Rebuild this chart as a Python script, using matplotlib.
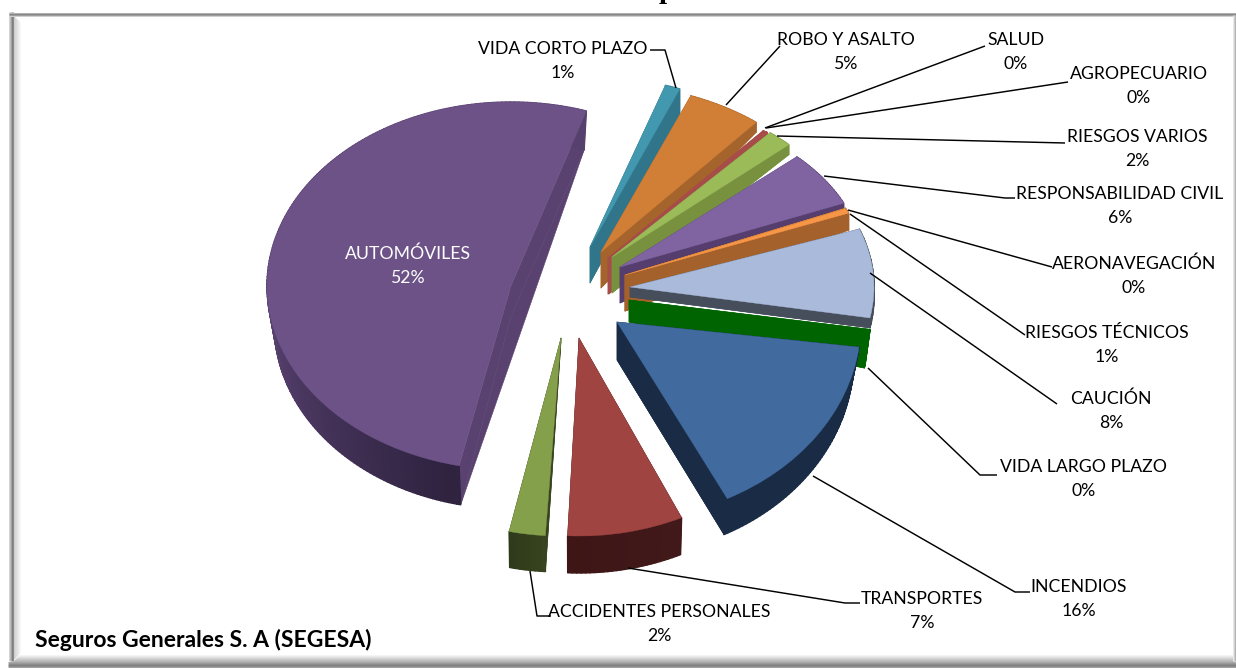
import numpy as np
import matplotlib
matplotlib.use("Agg")
import matplotlib.pyplot as plt
from matplotlib.patches import Wedge
from matplotlib.collections import PolyCollection
from matplotlib.colors import to_rgb
from matplotlib.transforms import Affine2D

# ---- data ----
categories = ["VIDA CORTO PLAZO", "ROBO Y ASALTO", "SALUD", "AGROPECUARIO", "RIESGOS VARIOS",
              "RESPONSABILIDAD CIVIL", "AERONAVEGACIÓN", "RIESGOS TÉCNICOS", "CAUCIÓN",
              "VIDA LARGO PLAZO", "INCENDIOS", "TRANSPORTES", "ACCIDENTES PERSONALES", "AUTOMÓVILES"]
values = [1.0, 5.0, 0.15, 0.1, 1.7, 5.6, 0.05, 0.5, 8.5, 0.4, 15.6, 7.7, 2.4, 51.9]
percent_labels = ["1%", "5%", "0%", "0%", "2%", "6%", "0%", "1%", "8%", "0%", "16%", "7%", "2%", "52%"]

# ---- styling / layout ----
top_colors = ["#4198af", "#d17f37", "#a84c49", "#a84c49", "#9bbb59", "#8064a2", "#f79646", "#f79646",
              "#aabadb", "#006400", "#416b9f", "#a04442", "#85a04a", "#6d5288"]
side_colors = ["#31758a", "#a5642b", "#a84c49", "#a84c49", "#77913f", "#553e6e", "#a5612c", "#a5612c",
               "#464e5c", "#006400", "#192b45", "#42191a", "#37441f", "#5a4270"]
rim_dark = ["#31758a", "#a5642b", "#a84c49", "#a84c49", "#77913f", "#553e6e", "#a5612c", "#a5612c",
            "#464e5c", "#006400", "#192b45", "#3e1616", "#2f3a1a", "#2f2340"]
rim_light = side_colors[:13] + ["#56406e"]
apex_x = [590, 601, 608, 609, 612, 620, 625, 625, 630, 629, 617, 579, 561, 511]
apex_y = [247, 252, 258, 258, 257, 267, 275, 275, 287, 300, 322, 338, 338, 286]
radius_y = [170, 168, 165, 165, 163, 160, 155, 155, 170, 190, 198, 198, 198, 184]
angle_shift = [0, 0, 0, 0, 0, 0, 2, 2, -1.6, 0, 3, 1.0, 0, 0]
depth_apex = [36, 36, 36, 36, 36, 36, 36, 36, 10, 22, 38, 36, 4, 30]
depth_rim = [30, 10, 6, 6, 10, 9, 17, 17, 10, 34, 36, 37, 36, 39]
shrink = [1, 1, 1, 1, 1, 1, 1, 1, 1, 0.98, 0.97, 0.99, 0.99, 0.97]
RADIUS_X = 244
START_ANGLE = 72

label_x = [563, 846, 1016, 1139, 1137, 1120, 1134, 1107, 1111, 1084, 1079, 922, 659, 408]
label_y = [61, 52, 52, 86, 149, 206, 276, 345, 411, 479, 599, 611, 624, 266]
leaders = [
    [(650, 50), (665, 50), (676, 88)],
    [(780, 46), (726, 105)],
    [(985, 46), (765, 128)],
    [(1068, 82), (766, 128)],
    [(1065, 143), (777, 136)],
    [(1015, 198), (1005, 198), (824, 176)],
    [(1052, 267), (848, 210)],
    [(1025, 335), (850, 214)],
    [(1057, 404), (870, 273)],
    [(997, 475), (980, 475), (868, 368)],
    [(1030, 592), (1015, 592), (813, 476)],
    [(860, 603), (845, 603), (628, 568)],
    [(551, 616), (537, 616), (530, 571)],
]

plt.rcParams["font.family"] = ["Lato", "DejaVu Sans"]
fig = plt.figure(figsize=(12.36, 6.68), dpi=100, facecolor="white")
ax = fig.add_axes([0, 0, 1, 1])
ax.set_xlim(0, 1236)
ax.set_ylim(668, 0)
ax.axis("off")


def mix(a, b, t):
    a, b = np.array(to_rgb(a)), np.array(to_rgb(b))
    return tuple(a * (1 - t) + b * t)


# frame with soft inner shadow
def frame_line(xs, ys, col, lw=1.0):
    ax.plot(xs, ys, color=col, lw=lw * 0.72, solid_capstyle="butt", zorder=1)


for i in range(9):
    c = mix("#c8c8c8", "#ffffff", i / 8)
    frame_line([13 + i, 13 + i], [15 + i, 660 - i], c)
for i in range(8):
    c = mix("#b4b4b4", "#ffffff", i / 7)
    frame_line([13 + i, 1234], [661 - i, 661 - i], c)
for y, c in zip(range(661, 668), ["#a8a8a8", "#9a9a9a", "#8c8c8c", "#808080", "#8c8c8c", "#a0a0a0", "#b8b8b8"]):
    frame_line([8, 1236], [y + 0.5, y + 0.5], c)
for x, c in zip(range(8, 13), ["#d4d4d4", "#bcbcbc", "#a0a0a0", "#808080", "#8a8a8a"]):
    frame_line([x + 0.5, x + 0.5], [12, 661], c)
for y, c in zip(range(12, 16), ["#b0b0b0", "#888888", "#9c9c9c", "#d0d0d0"]):
    frame_line([9, 1236], [y + 0.5, y + 0.5], c)
for x, c in zip(range(1232, 1236), ["#e8e8e8", "#cfcfcf", "#b4b4b4", "#a8a8a8"]):
    frame_line([x + 0.5, x + 0.5], [15, 661], c)

# wedges, back to front
scale = 360.0 / sum(values)
angle = START_ANGLE
for i, v in enumerate(values):
    t1 = angle + angle_shift[i]
    t2 = t1 - v * scale
    angle -= v * scale
    cx, cy, ry = apex_x[i], apex_y[i], radius_y[i]
    th = np.radians(np.linspace(t1, t2, max(4, int(abs(t1 - t2) * 1.0))))
    px = cx + RADIUS_X * np.cos(th)
    py = cy - ry * np.sin(th)
    bx = cx + (px - cx) * shrink[i]
    by = py + depth_rim[i]
    base_x, base_y = cx, cy + depth_apex[i]

    z = 10 + i
    radial = [
        [(cx, cy), (px[0], py[0]), (bx[0], by[0]), (base_x, base_y)],
        [(cx, cy), (px[-1], py[-1]), (bx[-1], by[-1]), (base_x, base_y)],
        [(base_x, base_y), (bx[0], by[0]), (bx[-1], by[-1])],
    ]
    ax.add_collection(PolyCollection(radial, facecolors=side_colors[i], edgecolors=side_colors[i],
                                     linewidths=0.4, zorder=z))
    quads, cols = [], []
    n = len(px) - 1
    for k in range(n):
        quads.append([(px[k], py[k]), (px[k + 1], py[k + 1]), (bx[k + 1], by[k + 1]), (bx[k], by[k])])
        a = np.degrees(th[k]) % 360
        if i == len(values) - 1:
            t = np.clip((255 - a) / (255 - 190), 0, 1)
            cols.append(mix(rim_dark[i], rim_light[i], t))
        else:
            cols.append(mix(rim_light[i], rim_dark[i], k / max(n - 1, 1)))
    ax.add_collection(PolyCollection(quads, facecolors=cols, edgecolors=cols, linewidths=1.0, zorder=z))
    top = Wedge((0, 0), 1.0, min(t1, t2), max(t1, t2), facecolor=top_colors[i], edgecolor=top_colors[i],
                linewidth=0.3,
                transform=Affine2D().scale(RADIUS_X, -ry).translate(cx, cy) + ax.transData, zorder=z)
    ax.add_patch(top)

# leader lines
for pts in leaders:
    xs, ys = zip(*pts)
    ax.plot(xs, ys, color="black", lw=1.05, zorder=40, solid_capstyle="butt")

# labels
for i, name in enumerate(categories):
    col = "white" if name == "AUTOMÓVILES" else "black"
    ax.text(label_x[i], label_y[i], f"{name}\n{percent_labels[i]}", ha="center", va="center",
            multialignment="center", fontsize=12.7, color=col, linespacing=1.65, zorder=50)

ax.text(35, 640, "Seguros Generales S. A (SEGESA)", ha="left", va="center", fontsize=16.5,
        fontweight="bold", color="black", zorder=50)
# title is cut off by the top edge of the picture: only the foot of one letter is visible
ax.text(667, -1.5, "p", ha="center", va="baseline", fontsize=21, fontweight="bold", color="black",
        family="Liberation Serif", zorder=50)

fig.savefig("out.png", dpi=100)
